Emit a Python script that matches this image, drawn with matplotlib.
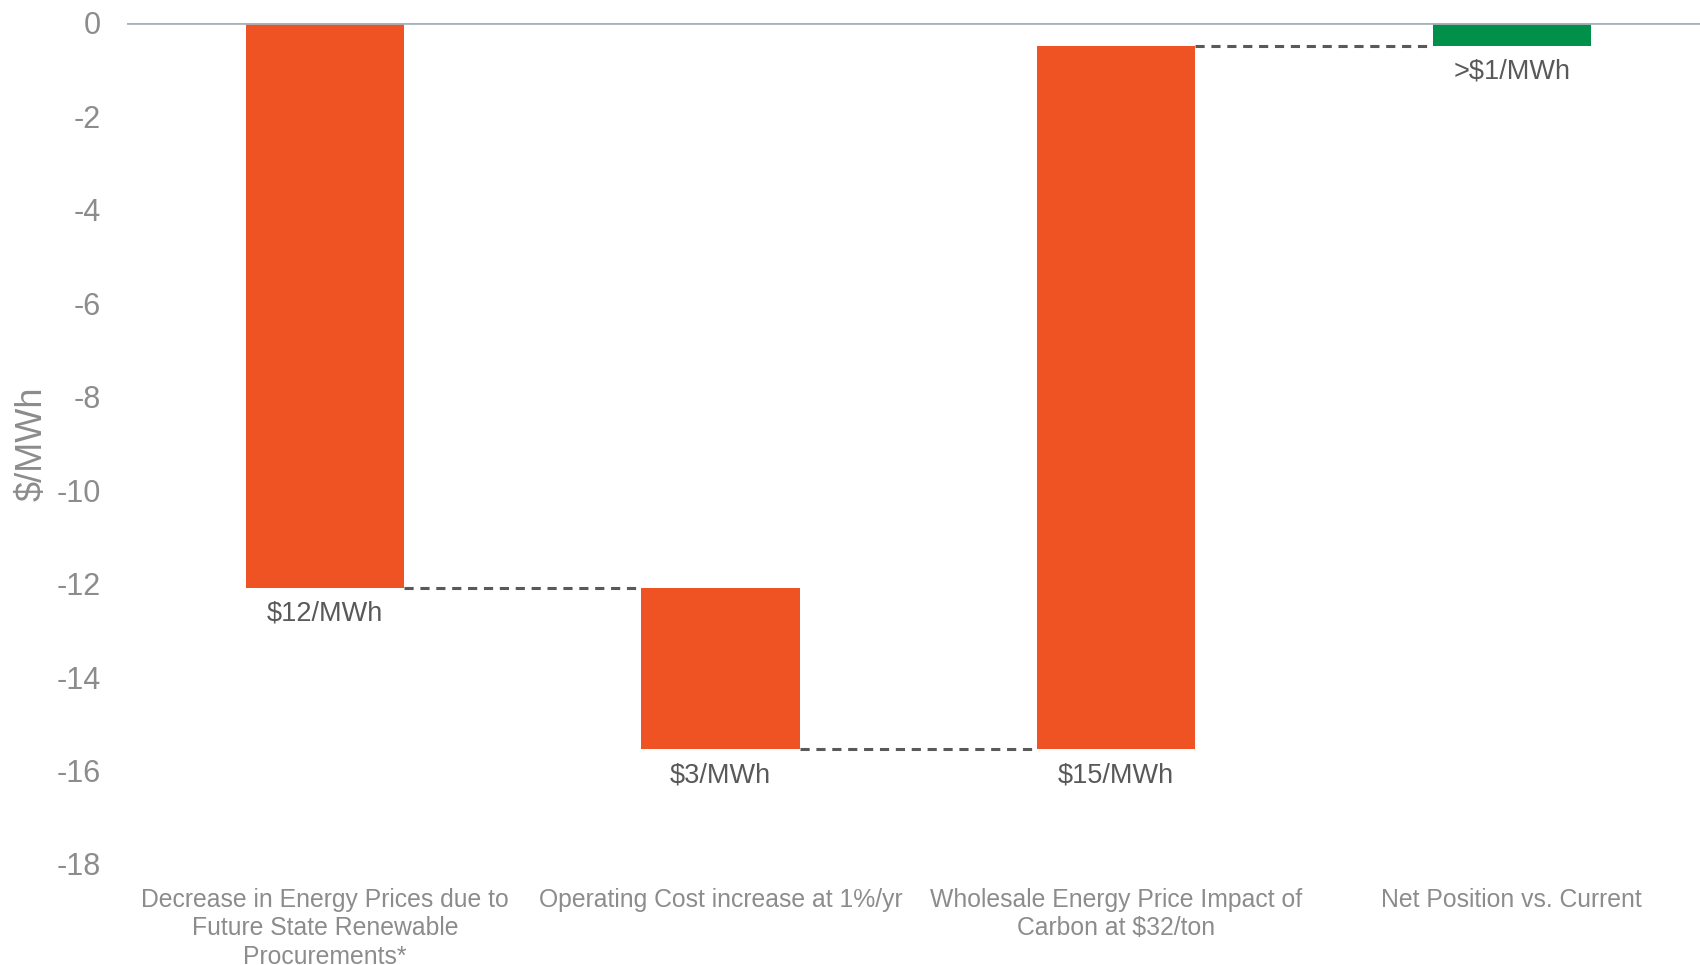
import matplotlib.pyplot as plt
import numpy as np

categories = [
    "Decrease in Energy Prices due to\nFuture State Renewable\nProcurements*",
    "Operating Cost increase at 1%/yr",
    "Wholesale Energy Price Impact of\nCarbon at $32/ton",
    "Net Position vs. Current",
]
changes = [-12.1, -3.45, 15.05]
value_labels = ["$12/MWh", "$3/MWh", "$15/MWh", ">$1/MWh"]
y_ticks = [0, -2, -4, -6, -8, -10, -12, -14, -16, -18]

orange = "#F05323"
green = "#00904A"
tick_grey = "#8C8C8C"
label_grey = "#595959"

plt.rcParams['font.family'] = ['Liberation Sans', 'DejaVu Sans']

fig = plt.figure(figsize=(17, 9.65), dpi=100)
ax = fig.add_axes([0.0747, 0.1047, 0.931, 0.8717])

# waterfall: running totals
ends = np.cumsum(changes)
starts = np.concatenate([[0], ends[:-1]])
net = ends[-1]

x = np.arange(len(categories))
width = 0.4
bottoms = list(starts) + [0]
heights = list(changes) + [net]
colors = [orange] * len(changes) + [green]
ax.bar(x, heights, bottom=bottoms, width=width, color=colors, zorder=2)

# dashed connectors between bars
levels = list(ends)
for i, lvl in enumerate(levels):
    ax.plot([x[i] + width / 2, x[i + 1] - width / 2], [lvl, lvl],
            ls=(0, (3, 2.2)), color=label_grey, lw=2.2, zorder=1)

# value labels under the low end of each bar
lows = [min(b, b + h) for b, h in zip(bottoms, heights)]
for xi, low, txt in zip(x, lows, value_labels):
    ax.text(xi, low - 0.55, txt, ha="center", va="center",
            fontsize=19.5, color=label_grey)

ax.axhline(0, color="#A9B2BB", lw=2, zorder=3)

ax.set_xlim(-0.5, 3.5)
ax.set_ylim(-18, 0)
ax.set_yticks(y_ticks)
ax.set_yticklabels([str(t) for t in y_ticks])
ax.set_xticks(x)
ax.set_xticklabels(categories, fontsize=17.8, color=tick_grey, linespacing=1.25)
ax.tick_params(axis="y", length=0, pad=19, labelsize=22, labelcolor=tick_grey)
ax.tick_params(axis="x", length=0, pad=17)
for s in ax.spines.values():
    s.set_visible(False)

ax.set_ylabel("$/MWh", fontsize=26, color=tick_grey)
ax.yaxis.set_label_coords(-0.049, 0.5)

fig.savefig("out.png", dpi=100)
